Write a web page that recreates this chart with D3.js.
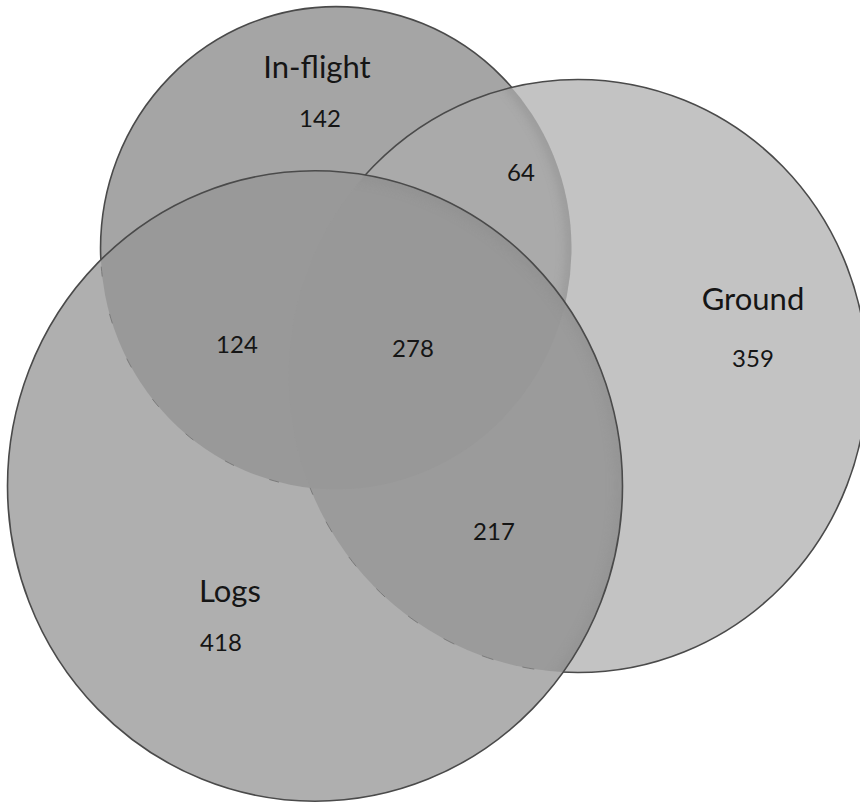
<!DOCTYPE html>
<html>
<head>
<meta charset="utf-8">
<script src="https://cdn.jsdelivr.net/npm/d3@7"></script>
<style>
  html, body { margin: 0; padding: 0; background: #ffffff; }
  svg { display: block; }
</style>
</head>
<body>
<svg id="chart" width="860" height="803"></svg>
<script>
// ---- data ----
const setNames = ["In-flight", "Ground", "Logs"];
// regions as set-index combinations and their counts
const regionSets = [[0], [1], [2], [0, 1], [0, 2], [1, 2], [0, 1, 2]];
const regionValues = [142, 359, 418, 64, 124, 217, 278];

// ---- layout / style (kept apart from the data) ----
const W = 860, H = 803;
const centers = [[336, 248], [578, 376], [315, 486]];
const aspect = 1.025;              // slight vertical stretch of the source picture
const maxRadius = 307.5;
const setLabelPos = [[317, 78], [753, 310], [230, 602]];
const regionLabelPos = [[320, 127], [753, 367], [221, 651], [521, 181], [237, 353], [494, 540], [413, 357]];
const regionColors = ["#a5a5a5", "#c3c3c3", "#afafaf", "#aaaaaa", "#999999", "#9b9b9b", "#989898"];
const strokeColor = "#4a4a4a";

// set totals from region counts
const setTotals = setNames.map((_, i) =>
  d3.sum(regionSets.map((s, k) => s.includes(i) ? regionValues[k] : 0)));

const rScale = d3.scaleSqrt().domain([0, d3.max(setTotals)]).range([0, maxRadius]);
const circles = setNames.map((name, i) => ({
  name, cx: centers[i][0], cy: centers[i][1],
  rx: rScale(setTotals[i]), ry: rScale(setTotals[i]) * aspect
}));

const svg = d3.select("#chart");
svg.append("rect").attr("width", W).attr("height", H).attr("fill", "#ffffff");
const defs = svg.append("defs");

function ell(sel, c) {
  return sel.append("ellipse").attr("cx", c.cx).attr("cy", c.cy).attr("rx", c.rx).attr("ry", c.ry);
}

// clip paths for every set
circles.forEach((c, i) => {
  ell(defs.append("clipPath").attr("id", "clip" + i), c);
});
defs.append("filter").attr("id", "soft").attr("x", "-20%").attr("y", "-20%")
  .attr("width", "140%").attr("height", "140%")
  .append("feGaussianBlur").attr("stdDeviation", 5);

// masks for outlines
function makeMask(id, base, whites, blacks) {
  const m = defs.append("mask").attr("id", id).attr("maskUnits", "userSpaceOnUse")
    .attr("x", 0).attr("y", 0).attr("width", W).attr("height", H);
  m.append("rect").attr("width", W).attr("height", H).attr("fill", base);
  whites.forEach(i => ell(m, circles[i]).attr("fill", "#fff"));
  blacks.forEach(i => ell(m, circles[i]).attr("fill", "#000"));
}
makeMask("m-out-GL", "#fff", [], [1, 2]);
makeMask("m-out-L", "#fff", [], [2]);
makeMask("m-inL-outG", "#000", [2], [1]);
makeMask("m-inL-outI", "#000", [2], [0]);
makeMask("m-inG-outL", "#000", [1], [2]);

const colorOf = key => regionColors[regionSets.findIndex(s => s.join() === key)];

const fills = svg.append("g");
// In-flight, Ground, In-flight∩Ground
ell(fills, circles[0]).attr("fill", colorOf("0"));
ell(fills, circles[1]).attr("fill", colorOf("1"));
ell(fills.append("g").attr("clip-path", "url(#clip1)"), circles[0]).attr("fill", colorOf("0,1"));
// soft shadow along the In-flight edge inside Ground
ell(fills.append("g").attr("mask", "url(#m-inG-outL)").append("g").attr("clip-path", "url(#clip0)"), circles[0])
  .attr("fill", "none").attr("stroke", "#8a8a8a").attr("stroke-width", 12)
  .attr("opacity", 0.45).attr("filter", "url(#soft)");
// Logs and its intersections
ell(fills, circles[2]).attr("fill", colorOf("2"));
const inL = fills.append("g").attr("clip-path", "url(#clip2)");
ell(inL, circles[0]).attr("fill", colorOf("0,2"));
ell(inL, circles[1]).attr("fill", colorOf("1,2"));
ell(inL.append("g").attr("clip-path", "url(#clip1)"), circles[0]).attr("fill", colorOf("0,1,2"));
// soft shade along the Logs edge inside Ground
ell(fills.append("g").attr("clip-path", "url(#clip1)").append("g").attr("clip-path", "url(#clip2)"), circles[2])
  .attr("fill", "none").attr("stroke", "#8a8a8a").attr("stroke-width", 14)
  .attr("opacity", 0.35).attr("filter", "url(#soft)");

// outlines
const lines = svg.append("g").attr("fill", "none");
ell(lines.append("g").attr("mask", "url(#m-out-GL)"), circles[0])
  .attr("stroke", strokeColor).attr("stroke-width", 1.6);
ell(lines.append("g").attr("mask", "url(#m-out-L)"), circles[1])
  .attr("stroke", strokeColor).attr("stroke-width", 1.6);
ell(lines, circles[2]).attr("stroke", strokeColor).attr("stroke-width", 1.6);
// faint broken edges inside Logs
ell(lines.append("g").attr("mask", "url(#m-inL-outG)"), circles[0])
  .attr("stroke", "#6a6a6a").attr("stroke-width", 1).attr("stroke-dasharray", "10 38").attr("opacity", 0.7);
ell(lines.append("g").attr("mask", "url(#m-inL-outI)"), circles[1])
  .attr("stroke", "#6a6a6a").attr("stroke-width", 1).attr("stroke-dasharray", "12 30").attr("opacity", 0.7);

// labels
const font = "Lato, 'Open Sans', sans-serif";
svg.append("g").selectAll("text").data(setNames).join("text")
  .attr("x", (d, i) => setLabelPos[i][0]).attr("y", (d, i) => setLabelPos[i][1])
  .attr("text-anchor", "middle").attr("font-family", font).attr("font-size", 31)
  .attr("fill", "#151515").text(d => d);

svg.append("g").selectAll("text").data(regionValues).join("text")
  .attr("x", (d, i) => regionLabelPos[i][0]).attr("y", (d, i) => regionLabelPos[i][1])
  .attr("text-anchor", "middle").attr("font-family", font).attr("font-size", 24)
  .attr("fill", "#151515").text(d => d);
</script>
</body>
</html>
